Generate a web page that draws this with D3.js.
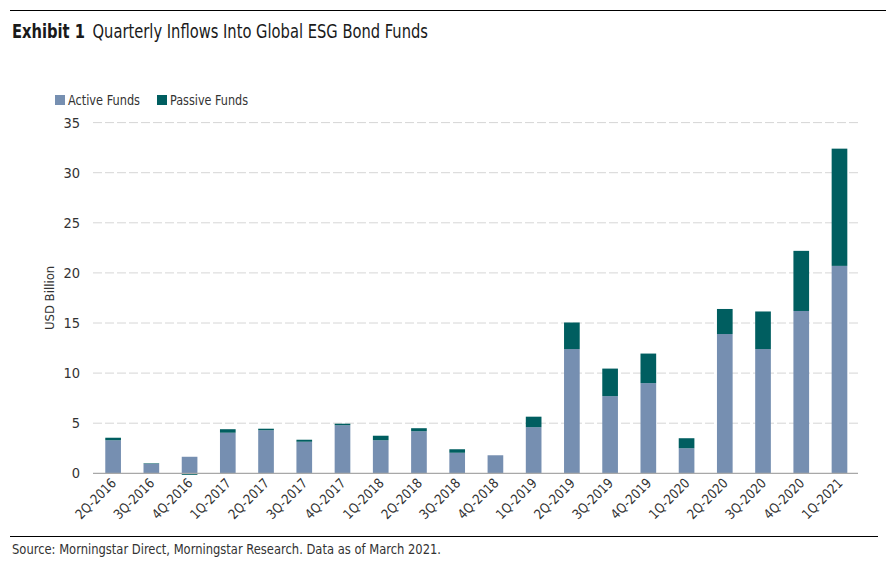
<!DOCTYPE html>
<html><head><meta charset="utf-8">
<script src="https://cdn.jsdelivr.net/npm/d3@7"></script>
<style>
body{margin:0;background:#fff;}
text{font-family:"Liberation Sans Narrow","DejaVu Sans Condensed","Roboto",sans-serif;}
</style></head>
<body><svg id="c" width="886" height="564"></svg>
<script>
const categories=["2Q-2016","3Q-2016","4Q-2016","1Q-2017","2Q-2017","3Q-2017","4Q-2017","1Q-2018","2Q-2018","3Q-2018","4Q-2018","1Q-2019","2Q-2019","3Q-2019","4Q-2019","1Q-2020","2Q-2020","3Q-2020","4Q-2020","1Q-2021"];
const activeFunds=[3.3,0.95,1.65,4.05,4.3,3.15,4.8,3.3,4.2,2.05,1.8,4.6,12.4,7.7,9.0,2.5,13.9,12.4,16.2,20.7];
const passiveFunds=[0.25,0.05,-0.15,0.35,0.15,0.2,0.15,0.45,0.3,0.35,0.0,1.05,2.65,2.75,2.95,1.0,2.5,3.75,6.0,11.7];
const seriesNames=["Active Funds","Passive Funds"];
const yTicks=[0,5,10,15,20,25,30,35];
const colors=["#768FB1","#005E60"];

const svg=d3.select("#c");
const x=d3.scaleBand().domain(categories).range([94,858.6]).paddingInner(0.59).paddingOuter(0.295);
const y=d3.scaleLinear().domain([0,35]).range([473.3,122.6]);

// top rule + title
svg.append("line").attr("x1",10).attr("x2",886).attr("y1",10.5).attr("y2",10.5).attr("stroke","#000").attr("stroke-width",1.2);
const title=svg.append("text").attr("x",12).attr("y",37.5).attr("font-size",19.5).attr("fill","#1a1a1a")
 .attr("textLength",416).attr("lengthAdjust","spacingAndGlyphs");
title.append("tspan").attr("font-weight","bold").text("Exhibit 1");
title.append("tspan").attr("dx",9).text("Quarterly Inflows Into Global ESG Bond Funds");

// gridlines
svg.append("g").selectAll("line").data(yTicks.filter(d=>d>0)).join("line")
 .attr("x1",93).attr("x2",858).attr("y1",d=>y(d)).attr("y2",d=>y(d))
 .attr("stroke","#d6d6d6").attr("stroke-width",1).attr("stroke-dasharray","9,3");
// y tick labels
svg.append("g").selectAll("text").data(yTicks).join("text")
 .attr("x",80).attr("y",d=>y(d)+5).attr("text-anchor","end").attr("font-size",14.5).attr("fill","#333").text(d=>d);
// y label
svg.append("text").attr("transform",`translate(54,${y(17.5)}) rotate(-90)`).attr("text-anchor","middle")
 .attr("font-size",13).attr("fill","#333").text("USD Billion");

// stacked bars
const table=categories.map((c,i)=>({cat:c,"Active Funds":activeFunds[i],"Passive Funds":passiveFunds[i]}));
const stack=d3.stack().keys(seriesNames).offset(d3.stackOffsetDiverging)(table);
svg.append("g").selectAll("g").data(stack).join("g").attr("fill",(d,i)=>colors[i])
 .selectAll("rect").data(d=>d).join("rect")
 .attr("x",d=>x(d.data.cat)).attr("width",x.bandwidth())
 .attr("y",d=>y(Math.max(d[0],d[1]))).attr("height",d=>Math.abs(y(d[0])-y(d[1])));

// zero line
svg.append("line").attr("x1",93).attr("x2",858).attr("y1",y(0)).attr("y2",y(0)).attr("stroke","#a8a8a8").attr("stroke-width",1.2);

// x labels
svg.append("g").selectAll("text").data(categories).join("text")
 .attr("transform",d=>`translate(${x(d)+x.bandwidth()/2+4},${484}) rotate(-45)`)
 .attr("text-anchor","end").attr("font-size",13.5).attr("fill","#333")
 .attr("textLength",51).attr("lengthAdjust","spacingAndGlyphs").text(d=>d);

// legend
const lg=svg.append("g");
const lx=[55,157], lw=[72,78];
seriesNames.forEach((n,i)=>{
 lg.append("rect").attr("x",lx[i]).attr("y",95).attr("width",10).attr("height",10).attr("fill",colors[i]);
 lg.append("text").attr("x",lx[i]+13).attr("y",105).attr("font-size",14.5).attr("fill","#333")
  .attr("textLength",lw[i]).attr("lengthAdjust","spacingAndGlyphs").text(n);
});

// bottom rule + source
svg.append("line").attr("x1",10).attr("x2",878).attr("y1",536.5).attr("y2",536.5).attr("stroke","#000").attr("stroke-width",1.2);
svg.append("text").attr("x",12).attr("y",554).attr("font-size",14).attr("fill","#333")
 .attr("textLength",429).attr("lengthAdjust","spacingAndGlyphs")
 .text("Source: Morningstar Direct, Morningstar Research. Data as of March 2021.");
</script></body></html>
